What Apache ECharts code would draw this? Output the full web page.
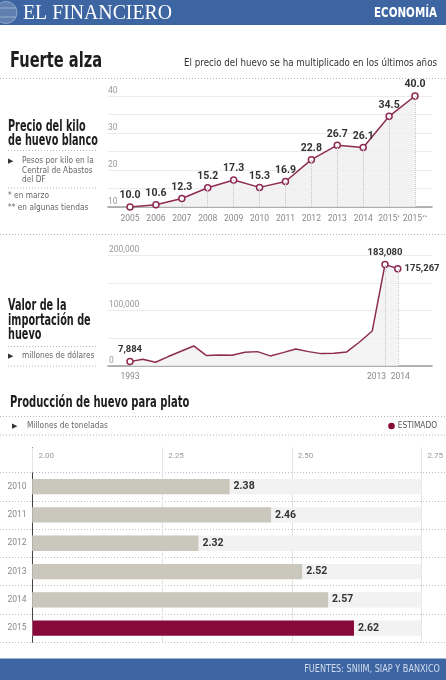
<!DOCTYPE html>
<html><head><meta charset="utf-8">
<script src="https://cdn.jsdelivr.net/npm/echarts@6/dist/echarts.min.js"></script>
<style>html,body{margin:0;padding:0;background:#fff}#c{width:446px;height:680px}</style>
</head><body><div id="c"></div>
<script>
// ---- data ----
const priceYears = ['2005','2006','2007','2008','2009','2010','2011','2012','2013','2014','2015*','2015**'];
const priceValues = [10.0,10.6,12.3,15.2,17.3,15.3,16.9,22.8,26.7,26.1,34.5,40.0];
const priceTickLabels = [10,20,30,40];

const importYears = [1993,1994,1995,1996,1997,1998,1999,2000,2001,2002,2003,2004,2005,2006,2007,2008,2009,2010,2011,2012,2013,2014];
const importValues = [7884,12200,6800,17000,26500,36100,18700,20000,19400,24800,25900,18200,24100,30800,25900,22300,23000,25400,43300,63100,183080,175267];
const importLabelYears = [1993,2013,2014];
const importTickLabels = [0,100000,200000];

const prodYears = ['2010','2011','2012','2013','2014','2015'];
const prodValues = [2.38,2.46,2.32,2.52,2.57,2.62];
const prodTickLabels = ['2.00','2.25','2.50','2.75'];
const estimatedYear = '2015';

// ---- style ----
const NARROW = '"Liberation Sans Narrow","DejaVu Sans Condensed",Roboto,sans-serif';
const LBL = 'Roboto,"Liberation Sans",sans-serif';
const LINE = '#8e2b53';
const DARKBAR = '#870b3a';
const GREYBAR = '#cac8bd';
const BLUE = '#3d65a1';

const chart = echarts.init(document.getElementById('c'), null, {renderer:'canvas'});

function txt(x, y, text, size, o) {
  o = o || {};
  return {type:'text', x:x, y:y, silent:true, scaleX:o.scaleX||1, z:10,
    style:{text:text, font:(o.weight||'normal')+' '+size+'px '+(o.family||NARROW),
      fill:o.color||'#222', textAlign:o.align||'left', textVerticalAlign:'middle', verticalAlign:'middle'}};
}
function dot(x1, y1, x2, y2) {
  return {type:'line', silent:true, shape:{x1:x1,y1:y1,x2:x2,y2:y2},
    style:{stroke:'#b5b5b5', lineWidth:1, lineDash:[1,2]}};
}
const TITLE = {weight:'bold', color:'#1e1e1e', scaleX:0.72};
const SMALL = {color:'#666', scaleX:0.87};

const priceData = priceValues.map((v,i)=>[i, v]);
const priceDrops = priceValues.map((v,i)=>[{coord:[i, 10]},{coord:[i, v]}]);

const lastI = importYears.length-1;
const importData = importYears.map((y,i)=>{
  const lab = (i===0 || i===lastI-1) ? {show:true, position:'top'} : (i===lastI ? {show:true, position:'right'} : {show:false});
  return {value:[y, importValues[i]], symbol: lab.show ? 'circle' : 'none', label: lab};
});
const importDrops = [lastI-1, lastI].map(i=>[{coord:[importYears[i],0]},{coord:[importYears[i],importValues[i]]}]);

const prodData = prodValues.map((v,i)=>({value:v, itemStyle:{color: prodYears[i]===estimatedYear ? DARKBAR : GREYBAR}}));

const thin = {fontFamily:LBL, color:'#999', fontSize:8.5};

function yearLabel(s) {
  const m = s.match(/^(\d+)(\**)$/);
  return m[2] ? m[1] + '{s|' + m[2] + '}' : m[1];
}

const option = {
  animation:false,
  backgroundColor:'#fff',
  textStyle:{fontFamily:LBL},
  grid:[
    {left:108, right:14, top:96, bottom:473},
    {left:108, right:14, top:255, bottom:314},
    {left:32.5, right:21.7, top:472.5, bottom:37.7},
    {left:0, right:0, top:472.5, bottom:37.7}
  ],
  xAxis:[
    {gridIndex:0, type:'value', min:-0.85, max:11.656,
      axisLine:{show:true, onZero:false, lineStyle:{color:'#9a9a9a', width:1.5}},
      axisTick:{show:false}, splitLine:{show:false},
      axisLabel:{customValues:priceYears.map((y,i)=>i), formatter:v=>yearLabel(priceYears[Math.round(v)]),
        rich:{s:{fontSize:6, color:'#888', fontFamily:LBL, padding:[0,0,4,0]}},
        color:'#888', fontSize:8.5, fontFamily:LBL, margin:7, hideOverlap:false}},
    {gridIndex:1, type:'value', min:1991.275, max:2016.686,
      axisLine:{show:true, onZero:false, lineStyle:{color:'#9a9a9a', width:1.5}},
      axisTick:{show:false}, splitLine:{show:false},
      axisLabel:{customValues:importLabelYears, hideOverlap:false,
        formatter:v=> v===2013 ? '{l|'+v+'}' : (v===2014 ? '{r|'+v+'}' : String(v)),
        rich:{l:{padding:[0,17,0,0], color:'#888', fontSize:8.5, fontFamily:LBL}, r:{padding:[0,0,0,5], color:'#888', fontSize:8.5, fontFamily:LBL}},
        color:'#888', fontSize:8.5, fontFamily:LBL, margin:6}},
    {gridIndex:2, type:'value', position:'top', min:2, max:2.75, interval:0.25,
      axisLine:{show:false},
      axisTick:{show:true, inside:false, length:25, lineStyle:{color:'#e4e4e4'}},
      splitLine:{show:true, lineStyle:{color:'#e4e4e4'}},
      axisLabel:{formatter:v=>prodTickLabels[Math.round((v-2)/0.25)], align:'left', padding:[0,0,0,6], margin:13,
        color:'#999', fontSize:8, fontFamily:LBL, showMinLabel:true, showMaxLabel:true}},
    {gridIndex:3, type:'value', show:false, min:0, max:1}
  ],
  yAxis:[
    {gridIndex:0, type:'value', min:10, max:40, interval:5,
      axisLine:{show:false}, axisTick:{show:false},
      splitLine:{lineStyle:{color:'#ebebeb'}},
      axisLabel:{inside:true, margin:0, verticalAlign:'bottom', padding:[0,0,1,0],
        formatter:v=> priceTickLabels.indexOf(v)>=0 ? String(v) : '', ...thin}},
    {gridIndex:1, type:'value', min:0, max:200000, interval:50000,
      axisLine:{show:false}, axisTick:{show:false},
      splitLine:{lineStyle:{color:'#ebebeb'}},
      axisLabel:{inside:true, margin:1, verticalAlign:'bottom', padding:[0,0,1,0],
        formatter:v=> importTickLabels.indexOf(v)>=0 ? v.toLocaleString('en-US') : '', ...thin}},
    {gridIndex:2, type:'category', inverse:true, data:prodYears,
      axisLine:{show:true, onZero:false, lineStyle:{color:'#444', width:1}},
      axisTick:{show:false}, splitLine:{show:false},
      axisLabel:{color:'#888', fontSize:8.5, fontFamily:LBL, margin:6}},
    {gridIndex:3, type:'category', inverse:true, data:prodYears,
      axisLine:{show:false}, axisTick:{show:false}, axisLabel:{show:false},
      splitLine:{show:true, lineStyle:{color:'#bdbdbd', type:[1,2]}}}
  ],
  series:[
    {type:'line', xAxisIndex:0, yAxisIndex:0, data:priceData,
      lineStyle:{color:LINE, width:1.5}, itemStyle:{color:'#fff', borderColor:LINE, borderWidth:1.5},
      symbol:'circle', symbolSize:6, showSymbol:true,
      areaStyle:{color:'#efefef', opacity:0.8},
      label:{show:true, position:'top', distance:2, formatter:p=>p.value[1].toFixed(1),
        fontWeight:'bold', fontSize:10.5, color:'#333', fontFamily:LBL},
      markLine:{silent:true, symbol:['none','none'], label:{show:false},
        lineStyle:{color:'#c4c4c4', type:'dotted', width:1}, data:priceDrops},
      z:3},
    {type:'line', xAxisIndex:1, yAxisIndex:1, data:importData,
      lineStyle:{color:LINE, width:1.5}, itemStyle:{color:'#fff', borderColor:LINE, borderWidth:1.5},
      symbol:'circle', symbolSize:6, showSymbol:true,
      areaStyle:{color:'#f1f1f1', opacity:0.8},
      label:{distance:3, formatter:p=>p.value[1].toLocaleString('en-US'),
        fontWeight:'bold', fontSize:9.5, color:'#333', fontFamily:LBL},
      markLine:{silent:true, symbol:['none','none'], label:{show:false},
        lineStyle:{color:'#c4c4c4', type:'dotted', width:1}, data:importDrops},
      z:3},
    {type:'bar', xAxisIndex:2, yAxisIndex:2, data:prodData, barWidth:15.3,
      showBackground:true, backgroundStyle:{color:'#f2f2f2'},
      label:{show:true, position:'right', distance:4, formatter:p=>p.value.toFixed(2),
        fontWeight:'bold', fontSize:10.5, color:'#333', fontFamily:LBL}}
  ],
  graphic:{elements:[
    {type:'rect', silent:true, shape:{x:0,y:0,width:446,height:25}, style:{fill:BLUE}},
    {type:'circle', silent:true, shape:{cx:6,cy:12.5,r:11}, style:{fill:'rgba(255,255,255,0.18)', stroke:'rgba(255,255,255,0.35)', lineWidth:1}},
    {type:'line', silent:true, shape:{x1:0,y1:8,x2:16,y2:8}, style:{stroke:'rgba(255,255,255,0.35)', lineWidth:1}},
    {type:'line', silent:true, shape:{x1:0,y1:17,x2:16,y2:17}, style:{stroke:'rgba(255,255,255,0.35)', lineWidth:1}},
    txt(23, 13, 'EL FINANCIERO', 22, {family:'"Liberation Serif","DejaVu Serif",serif', color:'#fff', scaleX:0.9}),
    txt(437, 13, 'ECONOMÍA', 14, {weight:'bold', color:'#fff', align:'right', scaleX:0.82}),
    txt(10, 61, 'Fuerte alza', 22, {weight:'bold', color:'#1e1e1e', scaleX:0.74}),
    txt(437, 63, 'El precio del huevo se ha multiplicado en los últimos años', 11, {color:'#333', align:'right', scaleX:0.88}),
    dot(0, 78.5, 446, 78.5),
    txt(8, 127, 'Precio del kilo', 15, TITLE),
    txt(8, 141, 'de huevo blanco', 15, TITLE),
    dot(8, 150.5, 97, 150.5),
    txt(8, 161, '▶', 7, {color:'#333', family:'"DejaVu Sans",sans-serif'}),
    txt(22, 161, 'Pesos por kilo en la', 9.5, SMALL),
    txt(22, 170.5, 'Central de Abastos', 9.5, SMALL),
    txt(22, 180, 'del DF', 9.5, SMALL),
    dot(8, 188, 97, 188),
    txt(8, 196, '* en marzo', 9.5, SMALL),
    txt(8, 207.5, '** en algunas tiendas', 9.5, SMALL),
    dot(0, 234.5, 446, 234.5),
    txt(8, 306.5, 'Valor de la', 15, TITLE),
    txt(8, 321, 'importación de', 15, TITLE),
    txt(8, 335.5, 'huevo', 15, TITLE),
    dot(8, 346.5, 97, 346.5),
    txt(8, 356, '▶', 7, {color:'#333', family:'"DejaVu Sans",sans-serif'}),
    txt(22, 356, 'millones de dólares', 9.5, SMALL),
    dot(8, 366, 97, 366),
    txt(10, 403.5, 'Producción de huevo para plato', 15, {weight:'bold', color:'#1e1e1e', scaleX:0.74}),
    dot(0, 416.5, 446, 416.5),
    txt(12, 426, '▶', 7, {color:'#333', family:'"DejaVu Sans",sans-serif'}),
    txt(27, 426, 'Millones de toneladas', 9.5, SMALL),
    {type:'circle', silent:true, shape:{cx:391.5, cy:426, r:3.3}, style:{fill:DARKBAR}},
    txt(437, 426, 'ESTIMADO', 9.5, {color:'#555', align:'right', scaleX:0.87}),
    dot(0, 435, 446, 435),
    {type:'line', silent:true, shape:{x1:32.5,y1:447,x2:32.5,y2:473}, style:{stroke:'#444', lineWidth:1}},
    {type:'rect', silent:true, shape:{x:0,y:658.5,width:446,height:21.5}, style:{fill:BLUE}},
    txt(440, 669, 'FUENTES: SNIIM, SIAP Y BANXICO', 11, {color:'#d3ddef', align:'right', scaleX:0.82})
  ]}
};
chart.setOption(option);
</script></body></html>
